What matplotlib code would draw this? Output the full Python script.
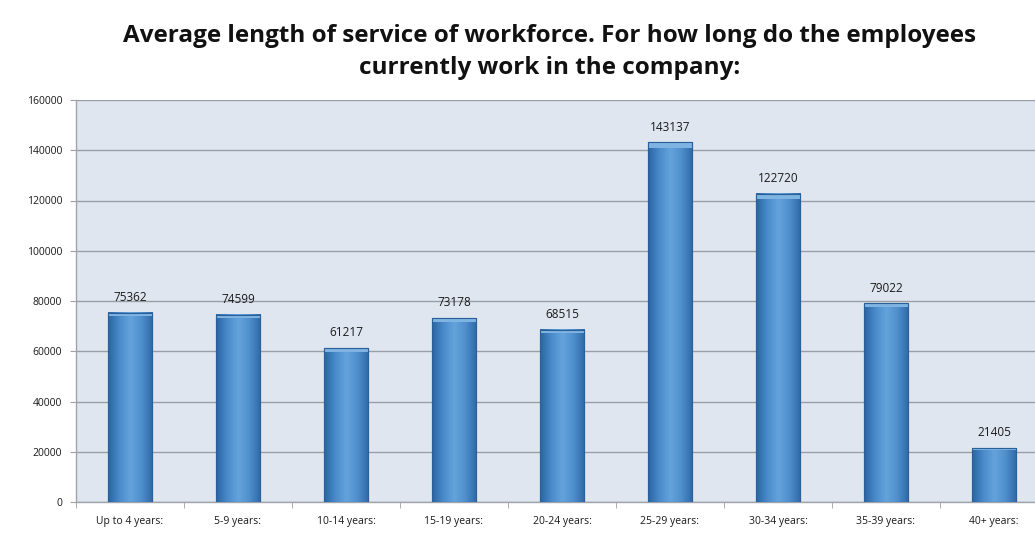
import numpy as np
import matplotlib
matplotlib.use('Agg')
import matplotlib.pyplot as plt
from matplotlib.colors import LinearSegmentedColormap

categories = ['Up to 4 years:', '5-9 years:', '10-14 years:', '15-19 years:',
              '20-24 years:', '25-29 years:', '30-34 years:', '35-39 years:',
              '40+ years:']
values = [75362, 74599, 61217, 73178, 68515, 143137, 122720, 79022, 21405]
yticks = [0, 20000, 40000, 60000, 80000, 100000, 120000, 140000, 160000]

plt.rcParams['font.family'] = ['Open Sans', 'DejaVu Sans']

fig = plt.figure(figsize=(10.35, 5.36), dpi=100)
ax = fig.add_axes([76/1035, 34/536, 972/1035, 402/536])
ax.set_facecolor('#dfe6f0')

x = np.arange(len(categories))
bars = ax.bar(x, values, width=0.41, color='#3f7fbf', edgecolor='#2a5f97',
              linewidth=0.8, zorder=3)

# horizontal shading for each bar
bar_cmap = LinearSegmentedColormap.from_list(
    'barshade', ['#2b65a3', '#4a8bcb', '#64a3db', '#4f8fcc', '#2f69a6'])
grad = np.linspace(0, 1, 64).reshape(1, -1)
for b in bars:
    x0, w, h = b.get_x(), b.get_width(), b.get_height()
    ax.imshow(grad, cmap=bar_cmap, aspect='auto', zorder=3.5,
              extent=(x0, x0 + w, 0, h), interpolation='bicubic')
    # light top cap
    ax.bar(x0 + w / 2, h * 0.012 + 600, bottom=h - h * 0.012 - 600, width=w,
           color='#7fb3e2', edgecolor='none', zorder=3.6)
    ax.bar(x0 + w / 2, h, width=w, fill=False, edgecolor='#2a5f97',
           linewidth=0.8, zorder=3.7)
    ax.text(x0 + w / 2, h + 3500, str(h), ha='center', va='bottom',
            fontsize=8.5, color='#1a1a1a', zorder=4)

ax.set_xlim(-0.5, len(categories) - 0.5)
ax.set_ylim(0, 160000)
ax.set_yticks(yticks)
ax.set_yticklabels([str(t) for t in yticks], fontsize=7.5, color='#1a1a1a')
ax.set_xticks(x)
ax.set_xticklabels(categories, fontsize=7.5, color='#1a1a1a')
ax.tick_params(axis='x', which='major', length=0, pad=10)
ax.set_xticks(np.arange(-0.5, len(categories), 1), minor=True)
ax.tick_params(axis='x', which='minor', length=4, color='#a0a0a0')
ax.tick_params(axis='y', length=4, color='#a0a0a0', pad=6)

ax.grid(axis='y', color='#9a9fa6', linewidth=1.0, zorder=1)
for s in ['top', 'right']:
    ax.spines[s].set_visible(False)
for s in ['left', 'bottom']:
    ax.spines[s].set_color('#a0a4aa')
    ax.spines[s].set_linewidth(1.0)

fig.text(0.531, 0.903, 'Average length of service of workforce. For how long do the employees\ncurrently work in the company:',
         ha='center', va='center', fontsize=17.5, fontweight='bold',
         color='#111111', linespacing=1.45)

fig.savefig('out.png', dpi=100)
